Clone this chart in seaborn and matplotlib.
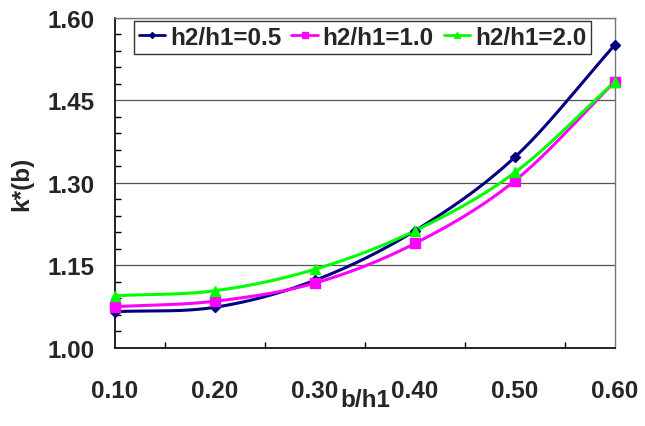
import numpy as np
import matplotlib
matplotlib.use('Agg')
import matplotlib.pyplot as plt
from matplotlib.ticker import FormatStrFormatter
import seaborn as sns

sns.set_theme(style='white')
plt.rcParams['font.family'] = ['Liberation Sans', 'DejaVu Sans']

# data
bh1 = [0.10, 0.20, 0.30, 0.40, 0.50, 0.60]
k_05 = [1.066, 1.074, 1.123, 1.213, 1.347, 1.551]
k_10 = [1.075, 1.085, 1.118, 1.190, 1.304, 1.484]
k_20 = [1.095, 1.104, 1.143, 1.213, 1.319, 1.484]
labels = ['h2/h1=0.5', 'h2/h1=1.0', 'h2/h1=2.0']
colors = ['#000080', '#FF00FF', '#00FF00']
markers = ['D', 's', '^']
msizes = [5.5, 7, 7.5]
y_ticks = [1.00, 1.15, 1.30, 1.45, 1.60]
x_ticks = [0.10, 0.20, 0.30, 0.40, 0.50, 0.60]


def smooth(x, y, n=30):
    # Excel style smoothed line (Catmull-Rom through the points)
    x = np.asarray(x, float)
    y = np.asarray(y, float)
    px = np.concatenate([[2 * x[0] - x[1]], x, [2 * x[-1] - x[-2]]])
    py = np.concatenate([[2 * y[0] - y[1]], y, [2 * y[-1] - y[-2]]])
    xs, ys = [], []
    t = np.linspace(0, 1, n)
    for i in range(1, len(px) - 2):
        for p, out in ((px, xs), (py, ys)):
            p0, p1, p2, p3 = p[i - 1], p[i], p[i + 1], p[i + 2]
            out.extend(0.5 * ((2 * p1) + (-p0 + p2) * t
                              + (2 * p0 - 5 * p1 + 4 * p2 - p3) * t ** 2
                              + (-p0 + 3 * p1 - 3 * p2 + p3) * t ** 3))
    return xs, ys


fig = plt.figure(figsize=(6.45, 4.27), dpi=100)
ax = fig.add_axes([0.1783, 0.1827, 0.7752, 0.7735])

for ys, lab, c, m, ms in zip([k_05, k_10, k_20], labels, colors, markers, msizes):
    sx, sy = smooth(bh1, ys)
    ax.plot(sx, sy, color=c, lw=2.2, zorder=3, clip_on=False)
    ax.plot(bh1, ys, linestyle='none', marker=m, color=c, ms=ms, zorder=4, clip_on=False)
    ax.plot([], [], color=c, lw=2.0, marker=m, ms=ms - 2.5, label=lab)

ax.set_xlim(0.10, 0.60)
ax.set_ylim(1.00, 1.60)
ax.set_xticks(x_ticks)
ax.set_xticks(np.arange(0.15, 0.6, 0.1), minor=True)
ax.set_yticks(y_ticks)
ax.set_yticks([v for v in np.arange(1.00, 1.601, 0.03) if min(abs(v - t) for t in y_ticks) > 1e-6], minor=True)
ax.xaxis.set_major_formatter(FormatStrFormatter('%.2f'))
ax.yaxis.set_major_formatter(FormatStrFormatter('%.2f'))
ax.grid(axis='y', which='major', color='#555555', lw=0.9)
ax.set_axisbelow(True)

ax.tick_params(axis='both', which='major', direction='inout', length=12, width=1,
               color='black', labelsize=17.5)
ax.tick_params(axis='both', which='minor', direction='in', length=4.5, width=1,
               color='black', left=True, bottom=True)
ax.tick_params(axis='x', which='major', pad=16)
ax.tick_params(axis='y', which='major', pad=9)
for t in ax.get_xticklabels() + ax.get_yticklabels():
    t.set_fontweight('bold')

for s in ['left', 'bottom']:
    ax.spines[s].set_color('black')
    ax.spines[s].set_linewidth(1.2)
for s in ['top', 'right']:
    ax.spines[s].set_color('#777777')
    ax.spines[s].set_linewidth(1.0)

ax.set_xlabel('b/h1', fontsize=17.5, fontweight='bold', labelpad=-10)
ax.set_ylabel('k*(b)', fontsize=17.5, fontweight='bold', labelpad=10)

leg = ax.legend(loc='upper center', bbox_to_anchor=(0.495, 0.99), ncol=3, frameon=True,
                fancybox=False, edgecolor='black', handlelength=1.1, handletextpad=0.2,
                columnspacing=0.4, borderpad=0.2, borderaxespad=0.0,
                prop={'size': 17.5, 'weight': 'bold'})
leg.get_frame().set_linewidth(1.0)

fig.savefig('out.png', dpi=100)
